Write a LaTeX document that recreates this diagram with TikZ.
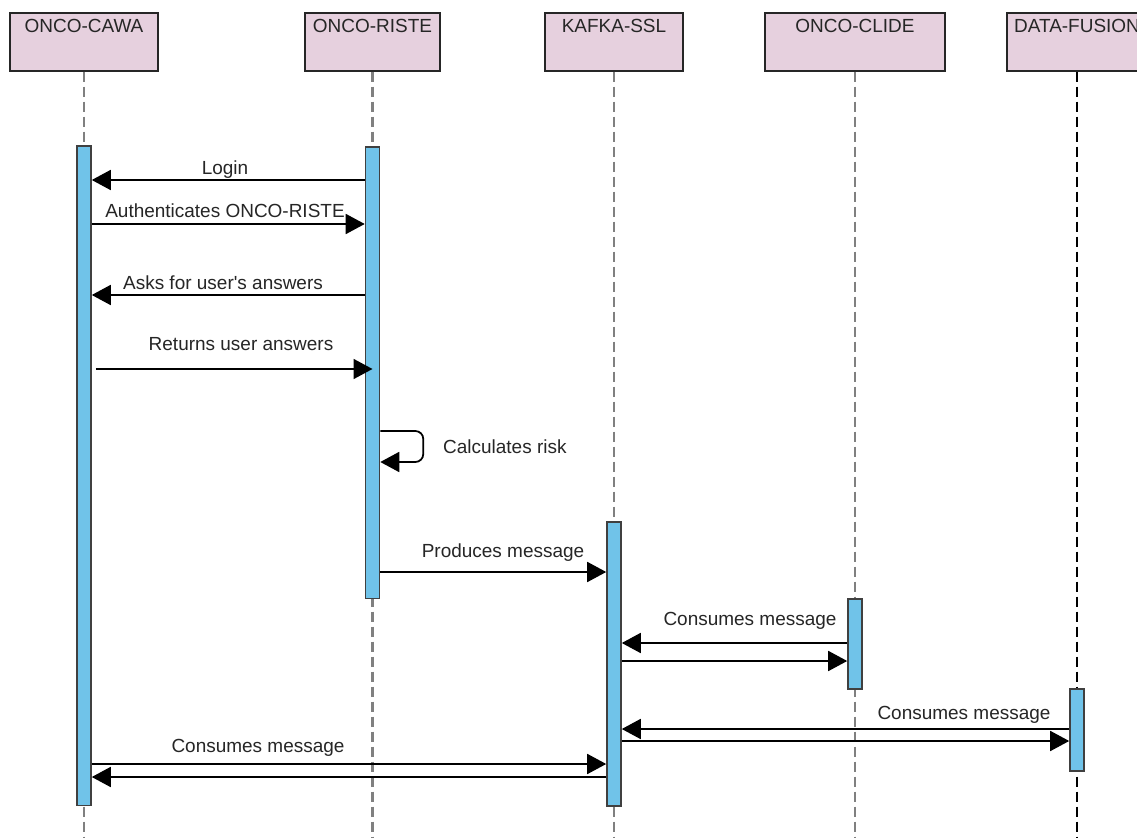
\documentclass[tikz,border=0pt]{standalone}
\usepackage{fontspec}
\setmainfont{Liberation Sans}
\usetikzlibrary{arrows.meta}
\definecolor{headpink}{RGB}{230,208,222}
\definecolor{barblue}{RGB}{112,195,233}
\definecolor{lifegray}{RGB}{128,128,128}

\begin{document}
\begin{tikzpicture}[x=0.02cm,y=-0.02cm,
  every node/.style={font=\fontsize{10.8}{13}\selectfont, text=black!85},
  head/.style={draw=black!85, line width=1.1pt, fill=headpink, anchor=north,
    inner sep=3pt, text height=8pt, text depth=18.9pt},
  life/.style={lifegray, line width=1.7pt, dash pattern=on 2mm off 1mm},
  bar/.style={draw=black!75, line width=0.9pt, fill=barblue, anchor=north,
    minimum width=0.28cm, inner sep=0pt},
  msg/.style={black, line width=1pt, -{Triangle[length=3.8mm,width=4mm]}},
  lbl/.style={anchor=base}]
  \useasboundingbox (0,0) rectangle (1137,838);
  \fill[white] (0,0) rectangle (1137,838);

  \node[head, minimum width=2.96cm] (cawa) at (84,12) {ONCO-CAWA};
  \node[head, minimum width=2.7cm] (riste) at (372.5,12) {ONCO-RISTE};
  \node[head, minimum width=2.76cm] (kafka) at (614,12) {KAFKA-SSL};
  \node[head, minimum width=3.6cm] (clide) at (855,12) {ONCO-CLIDE};
  \node[head, minimum width=2.8cm] (fusion) at (1077,12) {DATA-FUSION};

  \draw[life] (cawa.south) -- (cawa.south |- 0,838);
  \draw[life] (riste.south) -- (riste.south |- 0,838);
  \draw[life] (kafka.south) -- (kafka.south |- 0,838);
  \draw[life] (clide.south) -- (clide.south |- 0,838);
  \draw[black, line width=0.8pt, dash pattern=on 2mm off 1mm] (fusion.south) -- (fusion.south |- 0,838);

  \node[bar, minimum height=13.2cm] (cawabar) at (cawa.south |- 0,145) {};
  \node[bar, minimum height=9.04cm] (ristebar) at (riste.south |- 0,146) {};
  \node[bar, minimum height=5.68cm] (kafkabar) at (kafka.south |- 0,521) {};
  \node[bar, minimum height=1.8cm] (clidebar) at (clide.south |- 0,598) {};
  \node[bar, minimum height=1.64cm] (fusionbar) at (fusion.south |- 0,688) {};

  \draw[msg] (ristebar.west |- 0,180) -- (cawabar.east |- 0,180);
  \node[lbl] (login) at (225,174) {Login};
  \draw[msg] (cawabar.east |- 0,224) -- (ristebar.west |- 0,224);
  \node[lbl] (auth) at (225,217) {Authenticates ONCO-RISTE};
  \draw[msg] (ristebar.west |- 0,295) -- (cawabar.east |- 0,295);
  \node[lbl] (asks) at (223,290) {Asks for user\textquotesingle s answers};
  \draw[msg] ([xshift=0.08cm]cawabar.east |- 0,369) -- (ristebar.center |- 0,369);
  \node[lbl] (returns) at (241,350) {Returns user answers};

  \draw[msg, rounded corners=0.16cm] (ristebar.east |- 0,431) -- ++(43,0) -- ++(0,31)
    -- (ristebar.east |- 0,462);
  \node[lbl, anchor=base west] (risk) at (437,453) {Calculates risk};

  \draw[msg] (ristebar.east |- 0,572) -- (kafkabar.west |- 0,572);
  \node[lbl] (produces) at (503,557) {Produces message};

  \draw[msg] (clidebar.west |- 0,643) -- (kafkabar.east |- 0,643);
  \draw[msg] (kafkabar.east |- 0,661) -- (clidebar.west |- 0,661);
  \node[lbl] (consclide) at (750,625) {Consumes message};

  \draw[msg] (fusionbar.west |- 0,729) -- (kafkabar.east |- 0,729);
  \draw[msg] (kafkabar.east |- 0,741) -- (fusionbar.west |- 0,741);
  \node[lbl] (consfusion) at (964,719) {Consumes message};

  \draw[msg] (cawabar.east |- 0,764) -- (kafkabar.west |- 0,764);
  \draw[msg] (kafkabar.west |- 0,777) -- (cawabar.east |- 0,777);
  \node[lbl] (conscawa) at (258,752) {Consumes message};
\end{tikzpicture}
\end{document}
